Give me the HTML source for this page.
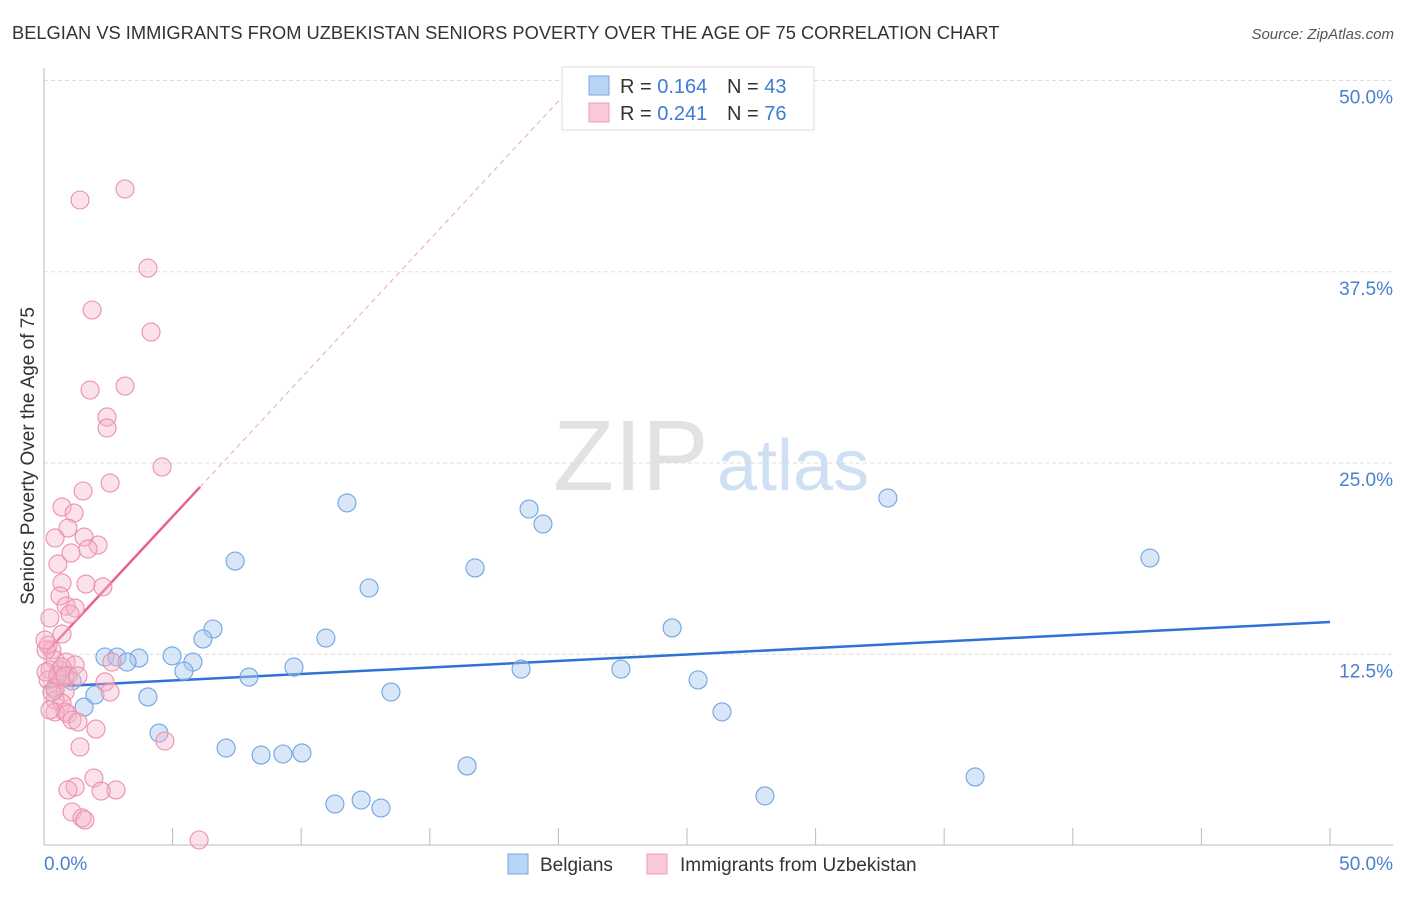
<!DOCTYPE html>
<html><head><meta charset="utf-8"><style>
body{margin:0;background:#fff;font-family:"Liberation Sans",sans-serif}
svg text{font-family:"Liberation Sans",sans-serif}
</style></head><body>
<svg id="c" width="1406" height="892" xmlns="http://www.w3.org/2000/svg">
<text x="12" y="39" font-size="18.3" fill="#333">BELGIAN VS IMMIGRANTS FROM UZBEKISTAN SENIORS POVERTY OVER THE AGE OF 75 CORRELATION CHART</text>
<text x="1394" y="39" font-size="15" fill="#555" font-style="italic" text-anchor="end">Source: ZipAtlas.com</text>
<g>
<text x="553" y="490" font-size="100" fill="#e2e2e2" font-family="Liberation Serif,serif">ZIP</text>
<text x="717" y="490" font-size="72" fill="#cfe0f4">atlas</text>
</g>
<g id="grid"></g>
<g id="axes"></g>
<g id="trends"></g>
<g id="pts"></g>
<text transform="translate(34,456) rotate(-90)" font-size="19" fill="#333" text-anchor="middle">Seniors Poverty Over the Age of 75</text>
<text x="44" y="870" font-size="19" fill="#4a7fd0">0.0%</text>
<text x="1393" y="870" font-size="19" fill="#4a7fd0" text-anchor="end">50.0%</text>
<g>
<rect x="562" y="67" width="252" height="63" fill="#fff" stroke="#ddd"/>
<rect x="589" y="76" width="20" height="19" fill="#b8d4f6" stroke="#7aa7e0"/>
<rect x="589" y="103" width="20" height="19" fill="#fac9d7" stroke="#ee9bb5"/>
<text x="620" y="93" font-size="20" fill="#333">R = <tspan fill="#3d7bd4">0.164</tspan></text>
<text x="727" y="93" font-size="20" fill="#333">N = <tspan fill="#3d7bd4">43</tspan></text>
<text x="620" y="120" font-size="20" fill="#333">R = <tspan fill="#3d7bd4">0.241</tspan></text>
<text x="727" y="120" font-size="20" fill="#333">N = <tspan fill="#3d7bd4">76</tspan></text>
</g>
<g>
<rect x="508" y="854" width="20" height="20" fill="#b8d4f6" stroke="#7aa7e0"/>
<text x="540" y="871" font-size="19" fill="#333">Belgians</text>
<rect x="647" y="854" width="20" height="20" fill="#fac9d7" stroke="#ee9bb5"/>
<text x="680" y="871" font-size="19" fill="#333">Immigrants from Uzbekistan</text>
</g>
</svg>
<script>
const yTicks=[12.5,25,37.5,50];
const yTickLabels=["12.5%","25.0%","37.5%","50.0%"];
const xTicks=[0,5,10,15,20,25,30,35,40,45,50];
const blueX=[11.78,18.86,19.40,32.81,43.00,7.43,16.76,12.64,6.57,6.18,10.96,24.42,2.37,2.84,3.69,3.23,4.98,5.79,5.44,9.72,18.55,22.43,7.97,1.09,25.43,13.49,1.98,4.04,1.56,26.36,4.47,7.08,8.44,9.29,10.03,16.45,36.20,28.03,11.31,12.33,13.10,0.62,0.43];
const blueY=[22.39,21.99,21.01,22.71,18.79,18.59,18.14,16.83,14.15,13.50,13.56,14.22,12.32,12.32,12.25,11.99,12.39,11.99,11.40,11.66,11.53,11.53,11.01,10.75,10.82,10.03,9.84,9.71,9.05,8.73,7.35,6.37,5.91,5.98,6.05,5.20,4.48,3.24,2.71,2.97,2.45,11.47,10.16];
const pinkX=[3.15,1.40,4.04,1.87,4.16,1.79,3.15,2.45,2.45,4.59,2.57,1.52,0.70,1.17,0.93,0.43,1.56,2.10,1.71,1.05,0.54,0.70,1.63,2.29,0.62,0.86,1.21,1.01,0.23,0.70,0.16,0.31,0.43,0.86,1.21,0.93,0.23,0.62,0.16,0.43,0.82,2.64,2.37,2.57,0.43,0.70,0.43,0.82,0.93,1.09,1.32,2.02,1.40,4.70,1.94,1.21,0.93,2.80,2.22,1.09,1.48,1.59,6.03,0.08,0.08,0.23,0.54,0.70,0.31,0.82,1.32,0.04];
const pinkY=[42.91,42.19,37.74,35.00,33.56,29.77,30.03,28.01,27.29,24.74,23.69,23.17,22.12,21.73,20.75,20.10,20.16,19.64,19.38,19.12,18.40,17.16,17.09,16.90,16.31,15.65,15.52,15.13,14.87,13.82,13.10,12.78,12.12,11.99,11.80,11.14,11.47,10.82,10.82,10.29,10.03,11.99,10.69,10.03,9.51,9.31,8.73,8.73,8.60,8.20,8.07,7.61,6.44,6.83,4.41,3.82,3.63,3.63,3.56,2.19,1.80,1.67,0.36,12.78,11.34,8.86,11.14,11.66,10.03,11.08,11.08,13.43];
const blueTrend=[10.36,14.61];
const pinkTrend=[12.45,1.81];
const NS="http://www.w3.org/2000/svg";
const X=v=>44+v*25.72, Y=v=>845.5-v*15.3;
function mk(t,a,p){const e=document.createElementNS(NS,t);for(const k in a)e.setAttribute(k,a[k]);p.appendChild(e);return e;}
const grid=document.getElementById('grid'),axes=document.getElementById('axes');
yTicks.forEach((t,i)=>{
 const l=mk('line',{x1:44,x2:1393,y1:Y(t),y2:Y(t),stroke:'#ddd','stroke-dasharray':'4,3'},grid);
 
 
 const tx=mk('text',{x:1393,y:Y(t)+23,'font-size':19,fill:'#4a7fd0','text-anchor':'end'},grid);
 tx.textContent=yTickLabels[i];
 
 
});
const ax=mk('line',{x1:44,x2:44,y1:68,y2:845,stroke:'#bbb'},axes);


const bx=mk('line',{x1:44,x2:1393,y1:845,y2:845,stroke:'#bbb'},axes);


xTicks.forEach(t=>{
 const l=mk('line',{x1:X(t),x2:X(t),y1:828,y2:845,stroke:'#bbb'},axes);
 
 
});
const tr=document.getElementById('trends');
const pd=mk('line',{x1:X(6.07),y1:Y(pinkTrend[0]+pinkTrend[1]*6.07),x2:X((50-pinkTrend[0])/pinkTrend[1]),y2:Y(50),stroke:'#eba5b9','stroke-dasharray':'5,4','stroke-width':1},tr);


const pl=mk('line',{x1:X(0),y1:Y(pinkTrend[0]),x2:X(6.07),y2:Y(pinkTrend[0]+pinkTrend[1]*6.07),stroke:'#e8638c','stroke-width':2.5},tr);


const bl=mk('line',{x1:X(0),y1:Y(blueTrend[0]),x2:X(50),y2:Y(blueTrend[1]),stroke:'#2f72d6','stroke-width':2.5},tr);


const pts=document.getElementById('pts');
blueX.forEach((x,i)=>{
 const c=mk('circle',{cx:X(x),cy:Y(blueY[i]),r:9,fill:'#a9c8f0','fill-opacity':0.45,stroke:'#6fa5e4','stroke-width':1.1},pts);
 
 
});
pinkX.forEach((x,i)=>{
 const c=mk('circle',{cx:X(x),cy:Y(pinkY[i]),r:9,fill:'#f6b5c8','fill-opacity':0.4,stroke:'#ec90ab','stroke-width':1.1},pts);
 
 
});
</script>
</body></html>
